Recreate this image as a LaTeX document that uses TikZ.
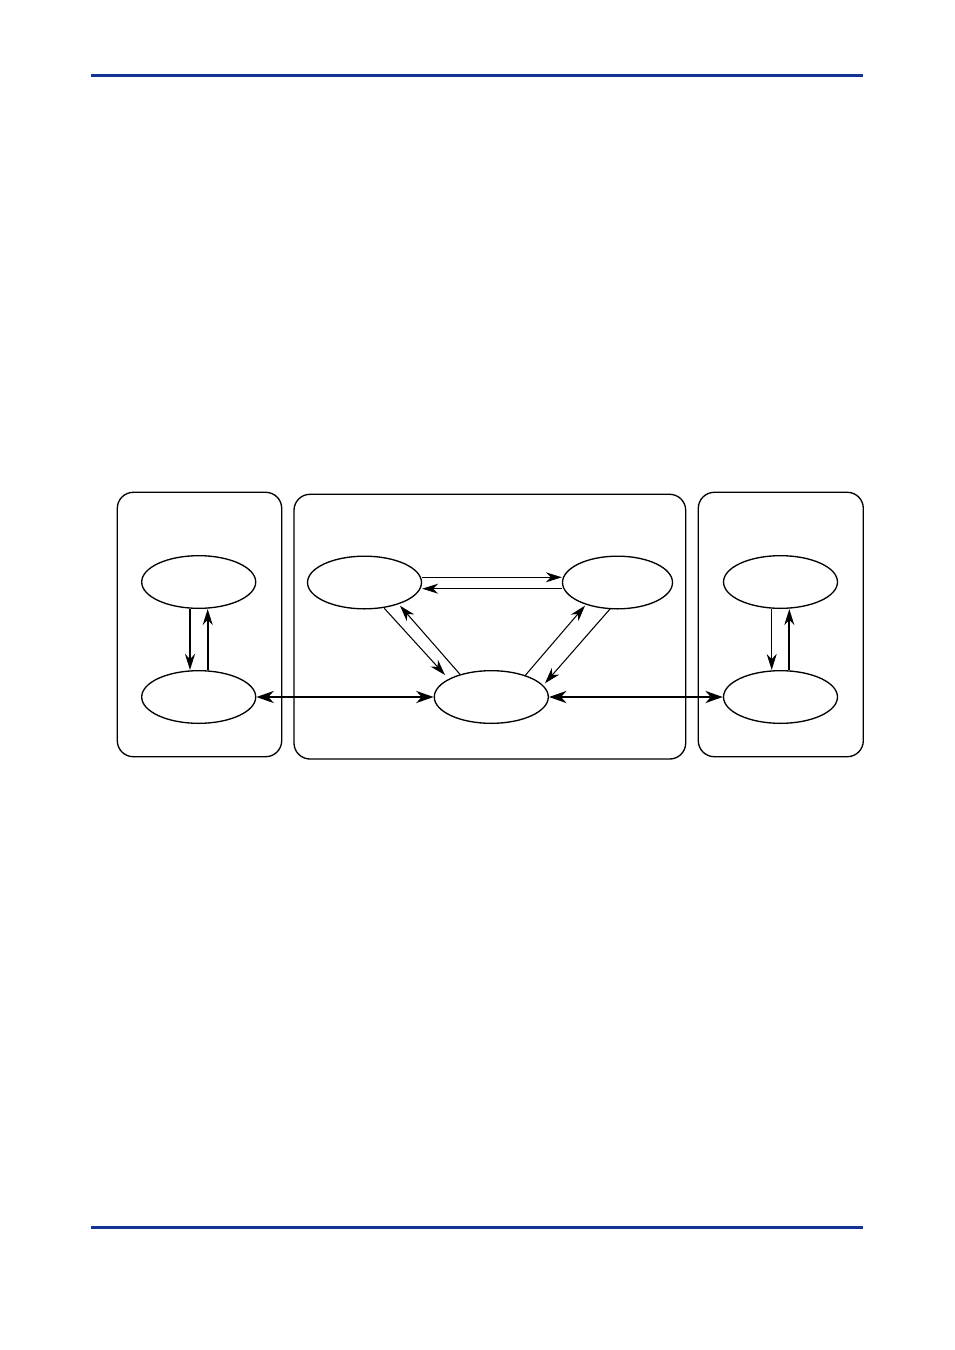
\documentclass[tikz,border=0pt]{standalone}
\usetikzlibrary{shapes.geometric,arrows.meta}
\definecolor{rulecol}{RGB}{18,50,148}
\begin{document}
\begin{tikzpicture}[x=0.75pt,y=-0.75pt,
  state/.style={ellipse,draw,line width=1pt,inner sep=0pt,minimum width=85.5pt,minimum height=39.5pt},
  grp/.style={draw,line width=1pt,rounded corners=12pt},
  thin/.style={line width=0.8pt,-{Stealth[length=12pt,width=7.5pt,inset=3.8pt]}},
  mid/.style={line width=1.3pt,-{Stealth[length=12pt,width=7.5pt,inset=3.8pt]}},
  link/.style={line width=2pt,{Stealth[length=13pt,width=9pt,inset=4pt]}-{Stealth[length=13pt,width=9pt,inset=4pt]}}
]
\useasboundingbox (0,0) rectangle (954,1350);
% header / footer rules
\draw[rulecol,line width=2.25pt] (91,75) -- (863,75);
\draw[rulecol,line width=2.25pt] (91,1227) -- (863,1227);
% group boxes
\draw[grp] (117.3,492.3) rectangle (281.7,756.7);
\draw[grp] (294,494.3) rectangle (685.7,759);
\draw[grp] (698.3,492.3) rectangle (863.3,756.7);
% states
\node[state] (lt) at (198.7,582) {};
\node[state] (lb) at (198.7,697) {};
\node[state] (tl) at (364.5,582.5) {};
\node[state,minimum width=82.5pt] (tr) at (617.5,582.5) {};
\node[state] (mb) at (491.3,697) {};
\node[state] (rt) at (780.5,582) {};
\node[state] (rb) at (780.5,697) {};
% left group
\draw[mid] ([shift={(-8.7,0)}]lt.south) -- ([shift={(-8.7,0)}]lb.north);
\draw[mid] ([shift={(9,0)}]lb.north) -- ([shift={(9,0)}]lt.south);
% right group
\draw[thin] ([shift={(-8.8,0)}]rt.south) -- ([shift={(-8.8,0)}]rb.north);
\draw[mid] ([shift={(8.8,0)}]rb.north) -- ([shift={(8.8,0)}]rt.south);
% middle group
\draw[thin] ([shift={(0,-5.2)}]tl.east) -- ([shift={(0,-5.2)}]tr.west);
\draw[thin] ([shift={(0,6.2)}]tr.west) -- ([shift={(0,6.2)}]tl.east);
\draw[thin] ([shift={(19.8,25.8)}]tl.center) -- ([shift={(-46.3,-22)}]mb.center);
\draw[thin] ([shift={(-31.3,-22.7)}]mb.center) -- ([shift={(35.5,23.2)}]tl.center);
\draw[thin] ([shift={(33.7,-21.3)}]mb.center) -- ([shift={(-32.5,23.2)}]tr.center);
\draw[thin] ([shift={(-7.5,26.5)}]tr.center) -- ([shift={(53.7,-13.7)}]mb.center);
% links between groups
\draw[link] (lb.east) -- (mb.west);
\draw[link] (mb.east) -- (rb.west);
\end{tikzpicture}
\end{document}
